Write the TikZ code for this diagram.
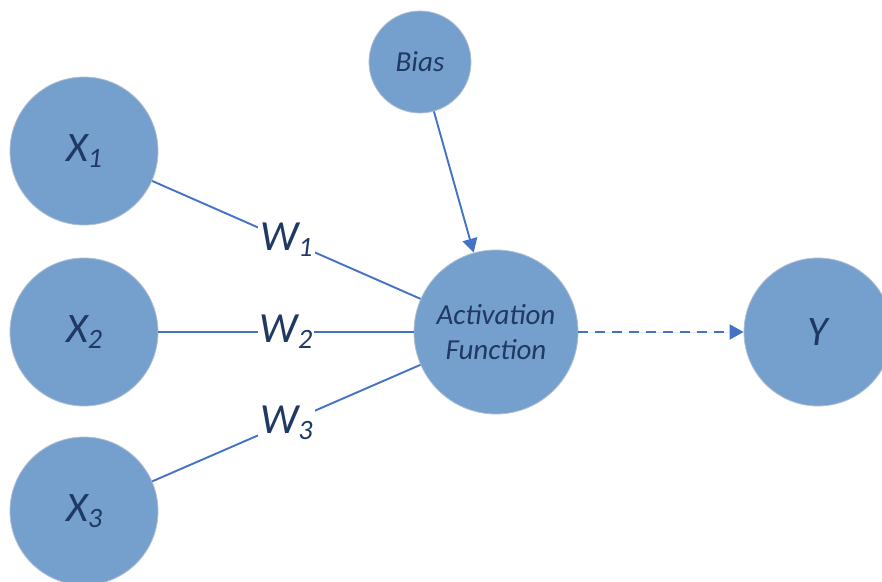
\documentclass[tikz,border=0pt]{standalone}
\usepackage{fontspec}
\setmainfont{Carlito}
\usetikzlibrary{arrows.meta}
\definecolor{nodefill}{RGB}{117,160,205}
\definecolor{nodeedge}{RGB}{175,190,210}
\definecolor{nodetext}{RGB}{31,56,100}
\definecolor{edgeblue}{RGB}{68,114,196}
\newcommand\subidx[1]{\raisebox{-6pt}{\fontsize{28}{28}\selectfont #1}}
\begin{document}
\begin{tikzpicture}[x=1pt,y=-1pt,
  neuron/.style={circle, fill=nodefill, draw=nodeedge, line width=0.8pt, inner sep=0pt, text=nodetext, align=center},
  bigtext/.style={font=\fontsize{42}{50}\selectfont\itshape},
  smalltext/.style={font=\fontsize{29}{35}\selectfont\itshape},
  edge/.style={draw=edgeblue, line width=1.9pt},
  wlabel/.style={fill=white, inner sep=2pt, text=nodetext, font=\fontsize{43}{50}\selectfont\itshape},
  arrowtip/.style={-{Triangle[length=14pt,width=15pt]}}
]
\useasboundingbox (0,0) rectangle (882,581);
\clip (0,0) rectangle (882,581);
\node[neuron, bigtext, minimum size=148pt] (x1) at (84,151) {X\subidx{1}};
\node[neuron, bigtext, minimum size=148pt] (x2) at (84,332) {X\subidx{2}};
\node[neuron, bigtext, minimum size=148pt] (x3) at (84,511) {X\subidx{3}};
\node[neuron, smalltext, minimum size=102pt] (bias) at (420,62) {Bias};
\node[neuron, smalltext, minimum size=164pt] (act) at (496,332) {Activation\\Function};
\node[neuron, bigtext, minimum size=148pt] (y) at (818,332) {Y};
\draw[edge] (x1) -- node[wlabel] {W\subidx{1}} (act);
\draw[edge] (x2) -- node[wlabel] {W\subidx{2}} (act);
\draw[edge] (x3) -- node[wlabel] {W\subidx{3}} (act);
\draw[edge, arrowtip, fill=edgeblue] (bias) -- (act);
\draw[edge, arrowtip, fill=edgeblue, dash pattern=on 10pt off 7pt] (act) -- (y);
\end{tikzpicture}
\end{document}
